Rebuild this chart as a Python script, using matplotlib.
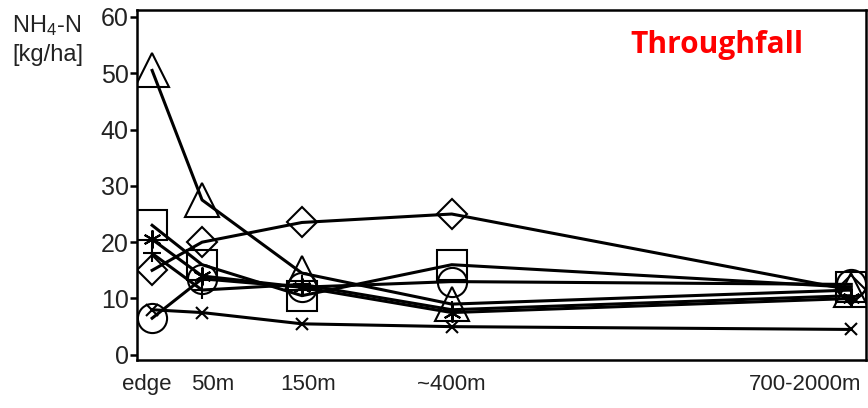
import matplotlib
matplotlib.use("Agg")
import matplotlib.pyplot as plt
import matplotlib.transforms as mtransforms

plt.rcParams['font.family'] = ['Liberation Sans', 'DejaVu Sans']
plt.rcParams['mathtext.default'] = 'regular'

# distance classes from the forest edge, placed on a stretched axis
sites = ["edge", "50m", "150m", "~400m", "700-2000m"]
site_pos = [0, 1, 3, 6, 14]

# NH4-N deposition in throughfall, one series per transect
triangle = [50.5, 27.5, 14.5, 9, 11.5]
diamond = [15, 20, 23.5, 25, 11.5]
square = [23, 16, 10.5, 16, 12]
circle = [6.5, 13.5, 12, 13, 12.5]
cross = [8, 7.5, 5.5, 5, 4.5]
star = [20.5, 14, 12, 7.5, 10]
plus = [18, 11.5, 12.5, 8, 10.5]

fig = plt.figure(figsize=(8.68, 4.08), dpi=100)
ax = fig.add_axes([0.158, 0.118, 0.84, 0.857])

style = dict(color='black', lw=2.2, mfc='none', mec='black', mew=1.5)
ax.plot(site_pos, triangle, marker='^', ms=25, **style)
ax.plot(site_pos, diamond, marker='D', ms=15, **style)
ax.plot(site_pos, square, marker='s', ms=21, **style)
ax.plot(site_pos, circle, marker='o', ms=21, **style)
ax.plot(site_pos, cross, marker='x', ms=9, **style)
ax.plot(site_pos, star, marker=(6, 2, 0), ms=13, **style)
ax.plot(site_pos, plus, marker='+', ms=13, **style)

ax.set_xlim(-0.3, 14.3)
ax.set_ylim(-0.9, 61.2)
ax.set_yticks(range(0, 61, 10))
ax.set_xticks(site_pos)
ax.set_xticklabels(sites)

for s in ax.spines.values():
    s.set_linewidth(1.8)
ax.tick_params(axis='y', length=5, width=1.8, labelsize=18, pad=1)
ax.tick_params(axis='x', length=0, labelsize=16, pad=10)
for lbl in ax.get_yticklabels() + ax.get_xticklabels():
    lbl.set_color('#222222')

# nudge the x labels (pixels), last one ends at the frame
nudge = [-5, 11, 6, 0, 10]
xlabels = ax.get_xticklabels()
xlabels[-1].set_horizontalalignment('right')
for lbl, dx in zip(xlabels, nudge):
    lbl.set_transform(lbl.get_transform() +
                      mtransforms.ScaledTranslation(dx / 100, 0, fig.dpi_scale_trans))

fig.text(0.014, 0.938, 'NH$_4$-N', fontsize=17, color='#222222', va='center')
fig.text(0.014, 0.866, '[kg/ha]', fontsize=17, color='#222222', va='center')

ax.text(0.676, 0.9, 'Throughfall', transform=ax.transAxes, fontsize=21.5,
        fontweight='bold', color='#ff0000', family=['Open Sans', 'DejaVu Sans'],
        va='center')

fig.savefig('out.png', dpi=100)
